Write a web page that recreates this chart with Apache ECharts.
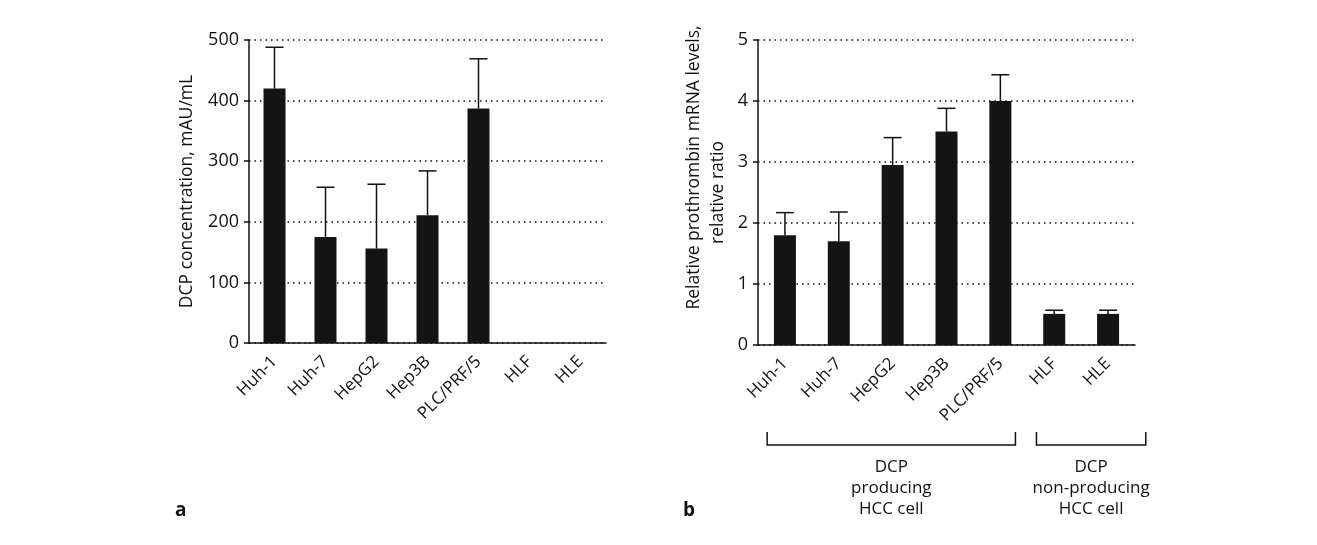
<!DOCTYPE html>
<html>
<head>
<meta charset="utf-8">
<title>DCP and prothrombin mRNA in HCC cell lines</title>
<style>
  html, body { margin: 0; padding: 0; background: #fff; }
  #main { width: 1317px; height: 545px; }
</style>
</head>
<body>
<div id="main"></div>
<script src="https://cdn.jsdelivr.net/npm/echarts@6/dist/echarts.min.js"></script>
<script>
var cellLines = ['Huh-1', 'Huh-7', 'HepG2', 'Hep3B', 'PLC/PRF/5', 'HLF', 'HLE'];
// panel a: DCP in medium
var dcpValues = [420, 175, 156, 211, 387, 0, 0];
var dcpErrors = [68, 82, 106, 73, 82, 0, 0];
var dcpTicks = [0, 100, 200, 300, 400, 500];
// panel b: prothrombin mRNA
var mrnaValues = [1.8, 1.7, 2.95, 3.5, 4.0, 0.51, 0.51];
var mrnaErrors = [0.37, 0.48, 0.45, 0.38, 0.43, 0.06, 0.06];
var mrnaTicks = [0, 1, 2, 3, 4, 5];
// brackets under panel b
var groupFrom = [0, 5];
var groupTo = [4, 6];
var groupNames = ['DCP\nproducing\nHCC cell', 'DCP\nnon-producing\nHCC cell'];

var FONT = '"Open Sans", "Noto Sans", sans-serif';
var INK = '#111';

function errData(vals, errs) {
  return vals.map(function (v, i) { return [i, v, v + errs[i]]; });
}

function errorBar(params, api) {
  if (api.value(2) <= api.value(1)) return;
  var base = api.coord([api.value(0), api.value(1)]);
  var top = api.coord([api.value(0), api.value(2)]);
  var cap = 9;
  return {
    type: 'group',
    children: [
      { type: 'line', shape: { x1: top[0], y1: base[1], x2: top[0], y2: top[1] }, style: { stroke: INK, lineWidth: 1.5 } },
      { type: 'line', shape: { x1: top[0] - cap, y1: top[1], x2: top[0] + cap, y2: top[1] }, style: { stroke: INK, lineWidth: 1.5 } }
    ]
  };
}

function bracket(params, api) {
  var band = api.size([1, 0])[0];
  var p0 = api.coord([api.value(0), 0]);
  var p1 = api.coord([api.value(1), 0]);
  var x0 = p0[0] - band * 0.33;
  var x1 = p1[0] + band * (params.dataIndex === 1 ? 0.7 : 0.28);
  var y0 = p0[1] + 87, y1 = p0[1] + 100;
  return {
    type: 'group',
    children: [
      { type: 'polyline', shape: { points: [[x0, y0], [x0, y1], [x1, y1], [x1, y0]] }, style: { stroke: INK, lineWidth: 1.5, fill: null } },
      { type: 'text', style: { text: groupNames[params.dataIndex], x: (x0 + x1) / 2, y: p0[1] + 112, align: 'center', verticalAlign: 'top', font: '17px ' + FONT, lineHeight: 21, fill: INK } }
    ]
  };
}

function yAxisOf(ticks, name, gap, idx) {
  return {
    type: 'value',
    gridIndex: idx,
    min: ticks[0],
    max: ticks[ticks.length - 1],
    interval: ticks[1] - ticks[0],
    name: name,
    nameLocation: 'middle',
    nameGap: gap,
    nameTextStyle: {
      color: INK, fontSize: 17.5, fontFamily: FONT, lineHeight: 24,
      rich: {
        first: { fontSize: 17.5, fontFamily: FONT, color: INK, lineHeight: 24, padding: [0, 0, 0, 50] },
        second: { fontSize: 17.5, fontFamily: FONT, color: INK, lineHeight: 24 }
      }
    },
    axisLine: { show: true, lineStyle: { color: INK, width: 1.5 } },
    axisTick: { show: true, length: 5, lineStyle: { color: INK, width: 1.5 } },
    axisLabel: { color: INK, fontSize: 18, fontFamily: FONT, margin: 10 },
    splitLine: { show: true, lineStyle: { color: INK, width: 1.5, type: [1.5, 4] } }
  };
}

function xAxisOf(idx) {
  return {
    type: 'category',
    gridIndex: idx,
    data: cellLines,
    axisLine: { lineStyle: { color: INK, width: 1.5 } },
    axisTick: { length: 7, lineStyle: { color: INK, width: 1.5 } },
    axisLabel: { color: INK, fontSize: 17, fontFamily: FONT, rotate: 45, margin: 16, interval: 0 }
  };
}

var chart = echarts.init(document.getElementById('main'));
var option = {
  backgroundColor: '#fff',
  animation: false,
  grid: [
    { left: 249, right: 711, top: 40, bottom: 202 },
    { left: 758, right: 182, top: 40, bottom: 200 }
  ],
  xAxis: [xAxisOf(0), xAxisOf(1)],
  yAxis: [
    yAxisOf(dcpTicks, 'DCP concentration, mAU/mL', 50, 0),
    yAxisOf(mrnaTicks, '{first|Relative prothrombin mRNA levels,}\n{second|relative ratio}', 28, 1)
  ],
  series: [
    { type: 'bar', xAxisIndex: 0, yAxisIndex: 0, data: dcpValues, barWidth: 22, itemStyle: { color: '#141414' } },
    { type: 'custom', xAxisIndex: 0, yAxisIndex: 0, data: errData(dcpValues, dcpErrors), renderItem: errorBar, z: 3 },
    { type: 'bar', xAxisIndex: 1, yAxisIndex: 1, data: mrnaValues, barWidth: 22, itemStyle: { color: '#141414' } },
    { type: 'custom', xAxisIndex: 1, yAxisIndex: 1, data: errData(mrnaValues, mrnaErrors), renderItem: errorBar, z: 3 },
    { type: 'custom', xAxisIndex: 1, yAxisIndex: 1, clip: false, silent: true,
      data: groupFrom.map(function (f, i) { return [f, groupTo[i]]; }), renderItem: bracket }
  ],
  graphic: [
    { type: 'text', left: 175, top: 501, style: { text: 'a', font: 'bold 19px ' + FONT, fill: INK } },
    { type: 'text', left: 683, top: 501, style: { text: 'b', font: 'bold 19px ' + FONT, fill: INK } }
  ]
};
chart.setOption(option);
window.onresize = function () { chart.resize(); };
</script>
</body>
</html>
